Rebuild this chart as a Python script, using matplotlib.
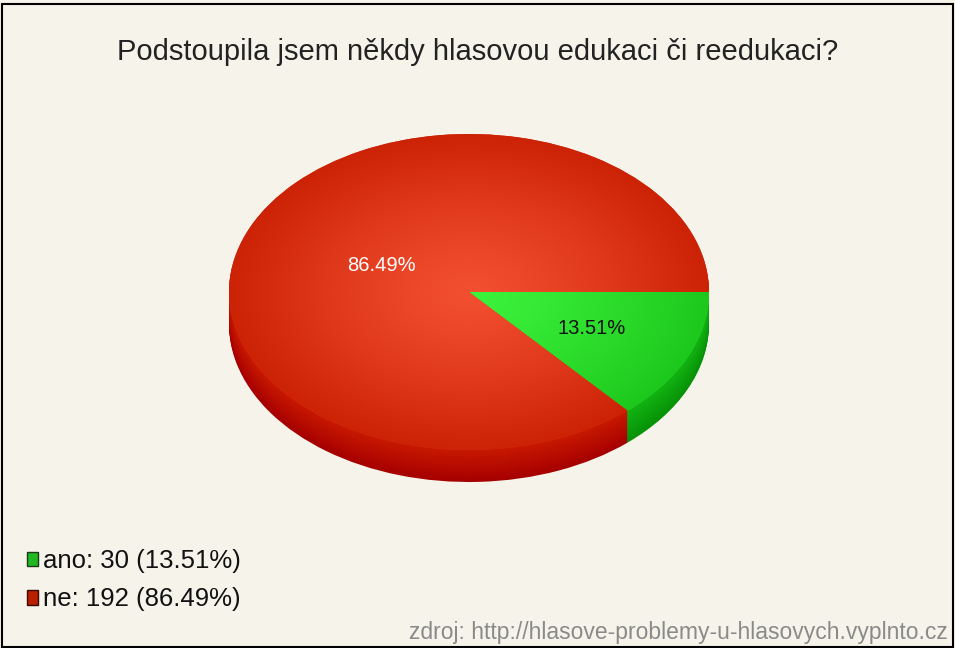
import numpy as np
import matplotlib.pyplot as plt
from matplotlib.patches import Patch, Rectangle
from matplotlib.colors import to_rgb

labels = ['ano', 'ne']
counts = [30, 192]
shares = [13.51, 86.49]

title = 'Podstoupila jsem někdy hlasovou edukaci či reedukaci?'
source = 'zdroj: http://hlasove-problemy-u-hlasovych.vyplnto.cz'

BG = '#f5f3ea'
W, H = 955, 648

plt.rcParams['font.family'] = ['Liberation Sans', 'DejaVu Sans']

fig = plt.figure(figsize=(W / 100, H / 100), dpi=100, facecolor=BG)

# pie geometry in pixels: centre, radii of the top face, rim thickness
cx, cy, rx, ry, depth = 469, 292, 240, 158, 32
pad = 8
ax = fig.add_axes([(cx - rx) / W, 1 - (cy + ry + depth + pad) / H,
                   2 * rx / W, (2 * ry + depth + pad) / H])
ax.set_facecolor('none')


def mix(c1, c2, t):
    a, b = np.array(to_rgb(c1)), np.array(to_rgb(c2))
    return tuple(a + (b - a) * t)


# rim: stacked copies of the pie, darker towards the bottom
side_top = ['#12b412', '#c81800']
side_bot = ['#079207', '#a60000']
for i in range(depth, 0, -1):
    t = 1 - i / depth
    cols = [mix(side_bot[k], side_top[k], t) for k in range(2)]
    ax.pie(counts, radius=1, center=(0, -i / ry), startangle=0,
           counterclock=False, colors=cols,
           wedgeprops=dict(linewidth=0.6))

# top face
wedges, _ = ax.pie(counts, radius=1, startangle=0, counterclock=False,
                   colors=['#2ee62e', '#dd3212'],
                   wedgeprops=dict(linewidth=0))

# radial shading on the top face
gx, gy = np.meshgrid(np.linspace(-1, 1, 300), np.linspace(-1, 1, 300))
rr = np.clip(np.hypot(gx, gy), 0, 1)[..., None]
shade = {
    0: (np.array(to_rgb('#3cf23c')), np.array(to_rgb('#1dc81d'))),
    1: (np.array(to_rgb('#f24e30')), np.array(to_rgb('#cc2206'))),
}
for k, w in enumerate(wedges):
    inner, outer = shade[k]
    img = inner + (outer - inner) * rr ** 1.3
    im = ax.imshow(img, extent=(-1, 1, -1, 1), origin='lower',
                   aspect='auto', interpolation='bilinear', zorder=2)
    im.set_clip_path(w)

# percentage labels on the slices
label_r = [0.56, 0.40]
label_col = ['#111111', 'white']
for k, w in enumerate(wedges):
    mid = np.deg2rad((w.theta1 + w.theta2) / 2)
    ax.text(label_r[k] * np.cos(mid), label_r[k] * np.sin(mid),
            f'{shares[k]:.2f}%', ha='center', va='center',
            fontsize=14.5, color=label_col[k], zorder=3)

ax.set_aspect('auto')
ax.set_xlim(-1, 1)
ax.set_ylim(-1 - (depth + pad) / ry, 1)
ax.axis('off')

fig.text(0.5, 1 - 52 / H, title, ha='center', va='center',
         fontsize=21, color='#222222')

handles = [Patch(facecolor='#22b822', edgecolor='#1a3a1a', lw=1),
           Patch(facecolor='#b82000', edgecolor='#3a0a00', lw=1)]
entries = [f'{l}: {c} ({s:.2f}%)' for l, c, s in zip(labels, counts, shares)]
fig.legend(handles, entries, loc='upper left',
           bbox_to_anchor=(17 / W, 1 - 539 / H), frameon=False,
           fontsize=18.5, handlelength=0.42, handleheight=0.5,
           handletextpad=0.2, labelspacing=0.55, borderaxespad=0,
           labelcolor='#111111')

fig.text(948 / W, 1 - 633 / H, source, ha='right', va='center',
         fontsize=16.5, color='#8a8a8a')

fig.add_artist(Rectangle((1.5 / W, 1 / H), 951 / W, 643 / H,
                         transform=fig.transFigure, fill=False,
                         ec='black', lw=1.5))

fig.savefig('out.png', dpi=100, facecolor=BG)
